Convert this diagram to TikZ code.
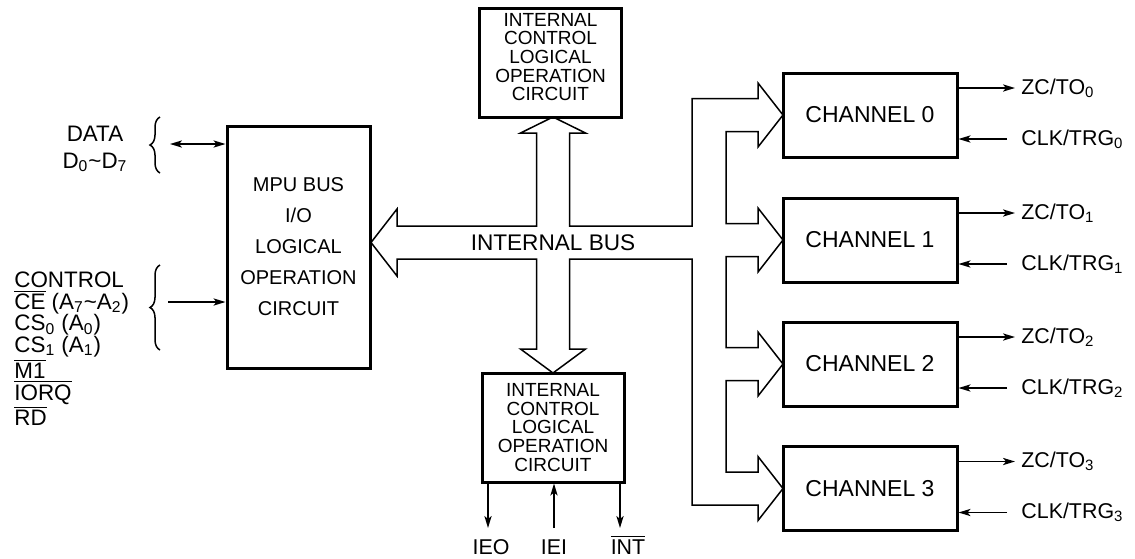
\documentclass[tikz,border=0pt]{standalone}
\usepackage{fontspec}
\setmainfont{Liberation Sans}
\usepackage{tikz}
\usetikzlibrary{arrows.meta,positioning,calc,decorations.pathreplacing}
\newcommand\ovl[1]{$\overline{\mbox{#1}}$}

\begin{document}
\begin{tikzpicture}[x=0.5pt,y=-0.5pt,
    blk/.style={draw,line width=1.5pt,inner sep=0pt},
    chan/.style={blk,minimum width=87pt,minimum height=42pt,font=\fontsize{11.5}{13}\selectfont},
    icbox/.style={blk,minimum width=71pt,minimum height=54.5pt},
    ictxt/.style={align=center,inner sep=0pt,font=\fontsize{9.5}{9.3}\selectfont},
    sig/.style={inner sep=0pt,font=\fontsize{10.7}{10.8}\selectfont},
    sigarr/.style={line width=0.75pt,-{Stealth[length=6pt,width=3.6pt,inset=1.5pt]}},
    sigboth/.style={line width=0.75pt,{Stealth[length=6pt,width=3.6pt,inset=1.5pt]}-{Stealth[length=6pt,width=3.6pt,inset=1.5pt]}},
    brc/.style={line width=0.75pt,decorate,decoration={brace,amplitude=5pt}}]
  \useasboundingbox (0,0) rectangle (1135,558);

  \node[blk,minimum width=71.5pt,minimum height=121pt,align=center,
        font=\fontsize{10}{15.5}\selectfont] (mpu) at (298.5,247)
        {MPU BUS\\I/O\\LOGICAL\\OPERATION\\CIRCUIT};

  % MPU side
  \node[sig,align=center,font=\fontsize{11.2}{13.5}\selectfont] (data) at (95,149)
        {DATA\\D\textsubscript{0}\textasciitilde D\textsubscript{7}};
  \draw[brc] (160,173) -- (160,117);
  \coordinate (datl) at (170,144);
  \draw[sigboth] (datl) -- (datl -| mpu.west);

  \node[sig,anchor=west,align=left,font=\fontsize{11.2}{10.8}\selectfont] (ctl) at (14,349)
        {CONTROL\\\ovl{CE} (A\textsubscript{7}\textasciitilde A\textsubscript{2})\\
         CS\textsubscript{0} (A\textsubscript{0})\\CS\textsubscript{1} (A\textsubscript{1})\\
         \ovl{M1}\\\ovl{IORQ}\\\ovl{RD}};
  \draw[brc] (160,350) -- (160,265);
  \coordinate (ctll) at (168,302);
  \draw[sigarr] (ctll) -- (ctll -| mpu.west);

  % internal bus
  \draw[line width=0.75pt] (371,242.5) -- (397,209) -- (397,226) -- (536.5,226)
    -- (536.5,133) -- (520.5,133) -- (553,117) -- (585.5,133) -- (569.5,133)
    -- (569.5,226) -- (692,226) -- (692,98.5) -- (758,98.5) -- (758,83)
    -- (783,115) -- (758,147) -- (758,131.5) -- (726,131.5) -- (726,223.5)
    -- (758,223.5) -- (758,208) -- (783,240) -- (758,272) -- (758,256.5)
    -- (726,256.5) -- (726,347.5) -- (758,347.5) -- (758,332) -- (783,364)
    -- (758,396) -- (758,380.5) -- (726,380.5) -- (726,472) -- (758,472)
    -- (758,456.5) -- (783,488.5) -- (758,520.5) -- (758,505) -- (692,505)
    -- (692,259) -- (569.5,259) -- (569.5,349) -- (585.5,349) -- (553,373)
    -- (520.5,349) -- (536.5,349) -- (536.5,259) -- (397,259) -- (397,276) -- cycle;
  \node[font=\fontsize{11.3}{13}\selectfont,inner sep=0pt] (bus) at (553,242.5) {INTERNAL BUS};

  \node[icbox] (ictop) at (550.5,62.5) {};
  \node[ictxt] (ictoptxt) at (550.5,57) {INTERNAL\\CONTROL\\LOGICAL\\OPERATION\\CIRCUIT};
  \node[icbox] (icbot) at (553,427.5) {};
  \node[ictxt] (icbottxt) at (icbot) {INTERNAL\\CONTROL\\LOGICAL\\OPERATION\\CIRCUIT};

  % daisy chain
  \coordinate (ieo) at (488,528);
  \coordinate (iei) at (554,528);
  \coordinate (intp) at (620,528);
  \node[sig,anchor=base] (ieol) at (491,554) {IEO};
  \node[sig,anchor=base] (ieil) at (554,554) {IEI};
  \node[sig,anchor=base] (intl) at (628,554) {\ovl{INT}};
  \draw[sigarr] (ieo |- icbot.south) -- (ieo);
  \draw[sigarr] (iei) -- (iei |- icbot.south);
  \draw[sigarr] (intp |- icbot.south) -- (intp);

  \foreach \i/\c in {0/115,1/240,2/364,3/488.5} {
    \node[chan] (ch\i) at (870,\c) {CHANNEL \i};
    \node[sig,anchor=west] (zc\i) at (1021,\c-27) {ZC/TO\textsubscript{\i}};
    \node[sig,anchor=west] (clk\i) at (1021,\c+24) {CLK/TRG\textsubscript{\i}};
    \draw[sigarr] (ch\i.east |- zc\i.west) -- ([xshift=-3pt]zc\i.west);
    \draw[sigarr] ([xshift=-7pt]clk\i.west) -- (ch\i.east |- clk\i.west);
  }
\end{tikzpicture}
\end{document}
